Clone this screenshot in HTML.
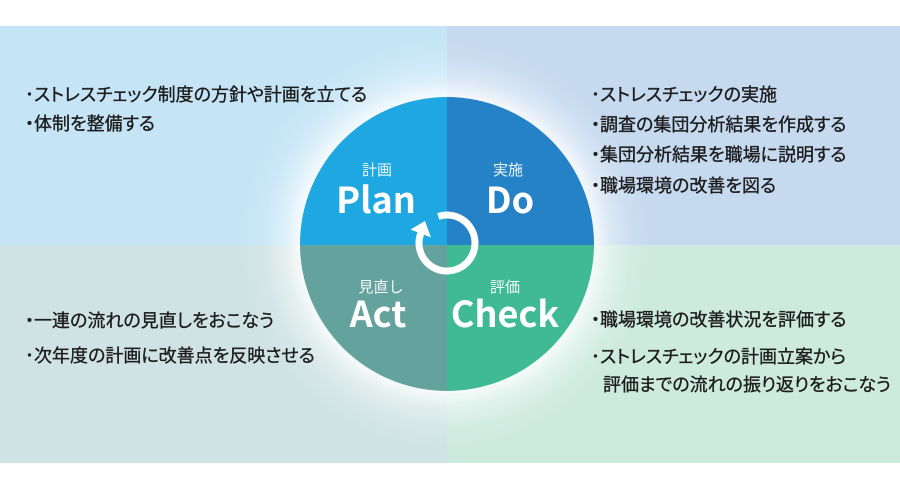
<!DOCTYPE html>
<html><head><meta charset="utf-8">
<style>
html,body{margin:0;padding:0;background:#fff;}
body{width:900px;height:490px;position:relative;overflow:hidden;}
svg{position:absolute;left:0;top:0;}
.t{font-family:"Liberation Sans","Noto Sans CJK JP",sans-serif;font-size:18px;fill:#1c1c1c;stroke:#1c1c1c;stroke-width:0.35;font-feature-settings:"palt";}
.s{font-family:"Noto Sans CJK JP",sans-serif;font-size:15px;fill:#ffffff;fill-opacity:0.92;}
.b{font-family:"Noto Sans CJK JP",sans-serif;font-weight:bold;font-size:36px;fill:#fff;}
</style></head>
<body>
<svg width="900" height="490" viewBox="0 0 900 490" xmlns="http://www.w3.org/2000/svg">
<defs>
<radialGradient id="glow" cx="447" cy="244" r="205" gradientUnits="userSpaceOnUse">
<stop offset="0.70" stop-color="#ffffff" stop-opacity="0.9"/>
<stop offset="0.80" stop-color="#ffffff" stop-opacity="0.4"/>
<stop offset="0.90" stop-color="#ffffff" stop-opacity="0.12"/>
<stop offset="1" stop-color="#ffffff" stop-opacity="0"/>
</radialGradient>
<clipPath id="cc"><circle cx="447" cy="244" r="147"/></clipPath>
</defs>
<rect x="0" y="26" width="447" height="219" fill="#c5e5f6"/>
<rect x="447" y="26" width="453" height="219" fill="#c5d9ef"/>
<rect x="0" y="245" width="447" height="218" fill="#d0e3e3"/>
<rect x="447" y="245" width="453" height="218" fill="#cdeadf"/>
<rect x="0" y="26" width="900" height="437" fill="url(#glow)"/>
<g clip-path="url(#cc)">
<rect x="290" y="90" width="157" height="155" fill="#1fa7e1"/>
<rect x="447" y="90" width="160" height="155" fill="#2582c7"/>
<rect x="290" y="245" width="157" height="160" fill="#63a29d"/>
<rect x="447" y="245" width="160" height="160" fill="#3fba93"/>
</g>
<path d="M438.3 216.4 A28 28 0 1 1 420.7 233.4" fill="none" stroke="#fff" stroke-width="7"/>
<polygon points="410.5,229.5 431,237.5 425,221" fill="#fff"/>
<text class="s" x="377" y="175" text-anchor="middle">計画</text>
<text class="b" x="376" y="213" text-anchor="middle">Plan</text>
<text class="s" x="508" y="175" text-anchor="middle">実施</text>
<text class="b" x="510" y="213" text-anchor="middle">Do</text>
<text class="s" x="381" y="292" text-anchor="middle">見直し</text>
<text class="b" x="378" y="327" text-anchor="middle">Act</text>
<text class="s" x="505" y="292" text-anchor="middle">評価</text>
<text class="b" x="505" y="327" text-anchor="middle">Check</text>
<text class="t" x="25" y="101">･ストレスチェック制度の方針や計画を立てる</text>
<text class="t" x="25" y="130">・体制を整備する</text>
<text class="t" x="591" y="101">･ストレスチェックの実施</text>
<text class="t" x="591" y="131">・調査の集団分析結果を作成する</text>
<text class="t" x="591" y="161">・集団分析結果を職場に説明する</text>
<text class="t" x="591" y="192">・職場環境の改善を図る</text>
<text class="t" x="25" y="327">・一連の流れの見直しをおこなう</text>
<text class="t" x="25" y="362">･次年度の計画に改善点を反映させる</text>
<text class="t" x="591" y="326">・職場環境の改善状況を評価する</text>
<text class="t" x="591" y="363">･ストレスチェックの計画立案から</text>
<text class="t" x="603" y="391">評価までの流れの振り返りをおこなう</text>
</svg>
</body></html>
